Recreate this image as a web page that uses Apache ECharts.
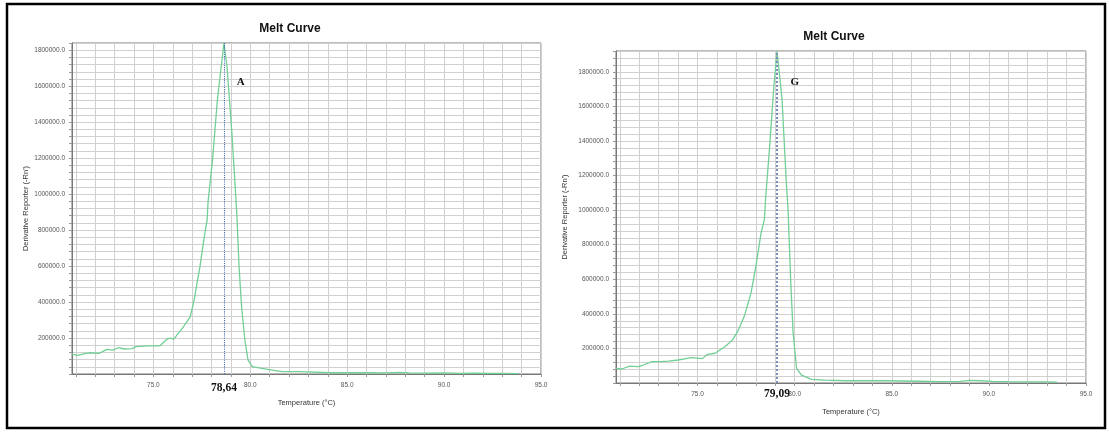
<!DOCTYPE html>
<html><head><meta charset="utf-8">
<script src="https://cdn.jsdelivr.net/npm/echarts@6/dist/echarts.min.js"></script>
<style>html,body{margin:0;padding:0;background:#fff}#c{width:1109px;height:433px}</style>
</head><body><div id="c"></div><script>
// ---- data ----
const chartTitle = 'Melt Curve';
const xName = 'Temperature (°C)';
const yName = "Derivative Reporter (-Rn')";
const tempA = [70.8,71.1,71.4,71.7,72.2,72.6,72.9,73.2,73.5,73.9,74.1,74.7,75.2,75.35,75.7,75.85,76.05,76.5,76.9,77.1,77.4,77.6,77.77,77.82,78.05,78.3,78.64,78.8,79.05,79.3,79.42,79.55,79.72,79.88,80.1,80.6,81.13,81.65,82.5,84.2,86.0,87.0,87.7,88.2,89.0,90.0,90.8,91.5,92.3,93.0,93.8];
const valA  = [111000,103000,112000,118000,115000,137000,133000,146000,139000,141000,152000,156000,157000,158000,193000,200000,194000,255000,317000,411000,596000,744000,855000,957000,1189000,1522000,1840000,1707000,1339000,900000,596000,374000,189000,78000,41000,31000,22000,13000,13000,7000,7000,6000,9000,6000,5000,6000,4000,5000,3000,3000,2000];
const tempG = [70.8,71.1,71.5,71.95,72.2,72.65,73.1,73.5,74.0,74.4,74.7,75.25,75.5,75.9,76.4,76.8,77.06,77.4,77.75,78.0,78.27,78.44,78.5,78.7,78.93,79.09,79.35,79.57,79.66,79.8,79.92,80.1,80.35,80.87,81.56,82.6,84.7,86.4,87.5,88.5,89.0,89.6,90.2,91.0,92.0,93.0,93.5];
const valG  = [85000,81000,98000,95000,104000,124000,124000,126000,133000,141000,147000,141000,166000,172000,210000,249000,297000,384000,520000,674000,868000,945000,1061000,1351000,1718000,1920000,1640000,1158000,1000000,578000,288000,85000,46000,21000,17000,13000,13000,10000,8000,9000,15000,13000,9000,8000,7000,6000,5000];
const tmA = 78.64, tmG = 79.09;
const tmLabelA = '78,64', tmLabelG = '79,09';
const tagA = 'A', tagG = 'G';
const xMin = 70.8, xMax = 95, xLabelStep = 5;
const yMaxA = 1840000, yMaxG = 1920000, yStep = 40000, yLabelStep = 200000;

// ---- layout ----
const grids = [
  {left: 72, top: 43, width: 469, height: 331},
  {left: 616, top: 51, width: 470, height: 332}
];
const chart = echarts.init(document.getElementById('c'), null, {renderer: 'canvas'});
const sans = 'Arial, "Liberation Sans", sans-serif';
const serif = '"Times New Roman", "Liberation Serif", serif';

function xAxisCfg(i) {
  return {
    type: 'value', gridIndex: i, min: xMin, max: xMax, splitNumber: 24,
    axisLine: {show: true, lineStyle: {color: '#777', width: 1}},
    axisTick: {show: true, length: 3, lineStyle: {color: '#999'}},
    axisLabel: {
      fontSize: 6.5, color: '#555', fontFamily: sans, margin: 8,
      showMinLabel: false,
      formatter: v => (Math.abs(v / xLabelStep - Math.round(v / xLabelStep)) < 1e-6) ? v.toFixed(1) : ''
    },
    splitLine: {show: true, lineStyle: {color: '#d0d0d0', width: 1}},
    name: xName, nameLocation: 'middle', nameGap: 25,
    nameTextStyle: {fontSize: 7.5, color: '#333', fontFamily: sans}
  };
}
function yAxisCfg(i, max, gap) {
  return {
    type: 'value', gridIndex: i, min: 0, max: max, interval: yStep,
    axisLine: {show: true, lineStyle: {color: '#777', width: 1}},
    axisTick: {show: true, length: 3, lineStyle: {color: '#999'}},
    axisLabel: {
      fontSize: 6.5, color: '#555', fontFamily: sans, margin: 7,
      formatter: v => (v > 0 && v % yLabelStep === 0) ? v.toFixed(1) : ''
    },
    splitLine: {show: true, lineStyle: {color: '#d0d0d0', width: 1}},
    name: yName, nameLocation: 'middle', nameGap: gap,
    nameTextStyle: {fontSize: 7.5, color: '#333', fontFamily: sans}
  };
}
function seriesCfg(i, temps, vals, tm, dashColor, dashWidth) {
  return {
    type: 'line', xAxisIndex: i, yAxisIndex: i,
    data: temps.map((t, k) => [t, vals[k]]),
    showSymbol: false, symbol: 'none',
    lineStyle: {color: '#72cf97', width: 1.3},
    itemStyle: {color: '#72cf97'},
    markLine: {
      silent: true, symbol: 'none', animation: false,
      label: {show: false},
      lineStyle: {color: dashColor, type: 'dotted', width: dashWidth},
      data: [{xAxis: tm}]
    }
  };
}

chart.setOption({
  animation: false,
  backgroundColor: '#fff',
  grid: grids.map(g => Object.assign({show: true, borderColor: '#777', borderWidth: 1, backgroundColor: '#fff'}, g)),
  xAxis: [xAxisCfg(0), xAxisCfg(1)],
  yAxis: [yAxisCfg(0, yMaxA, 42), yAxisCfg(1, yMaxG, 47)],
  series: [seriesCfg(0, tempA, valA, tmA, '#4a6db0', 1.1), seriesCfg(1, tempG, valG, tmG, '#7d8fb8', 2)]
});

// annotations positioned through the chart's own scales
const pA = chart.convertToPixel({gridIndex: 0}, [tmA, 0]);
const pG = chart.convertToPixel({gridIndex: 1}, [tmG, 0]);
const tA = chart.convertToPixel({gridIndex: 0}, [79.5, 1620000]);
const tG = chart.convertToPixel({gridIndex: 1}, [80.0, 1740000]);

chart.setOption({
  graphic: [
    {type: 'rect', shape: {x: 7, y: 4, width: 1098, height: 424}, style: {fill: 'none', stroke: '#000', lineWidth: 2.5}, silent: true},
    {type: 'text', x: 290, y: 29, style: {text: chartTitle, font: 'bold 12px ' + sans, fill: '#111', textAlign: 'center', textVerticalAlign: 'middle'}},
    {type: 'text', x: 834, y: 37, style: {text: chartTitle, font: 'bold 12px ' + sans, fill: '#111', textAlign: 'center', textVerticalAlign: 'middle'}},
    {type: 'text', x: pA[0], y: pA[1] + 14, style: {text: tmLabelA, font: 'bold 11.5px ' + serif, fill: '#111', textAlign: 'center', textVerticalAlign: 'middle'}},
    {type: 'text', x: pG[0], y: pG[1] + 11, style: {text: tmLabelG, font: 'bold 11.5px ' + serif, fill: '#111', textAlign: 'center', textVerticalAlign: 'middle'}},
    {type: 'text', x: tA[0], y: tA[1], style: {text: tagA, font: 'bold 11px ' + serif, fill: '#111', textAlign: 'center', textVerticalAlign: 'middle'}},
    {type: 'text', x: tG[0], y: tG[1], style: {text: tagG, font: 'bold 11px ' + serif, fill: '#111', textAlign: 'center', textVerticalAlign: 'middle'}}
  ]
});
</script></body></html>
